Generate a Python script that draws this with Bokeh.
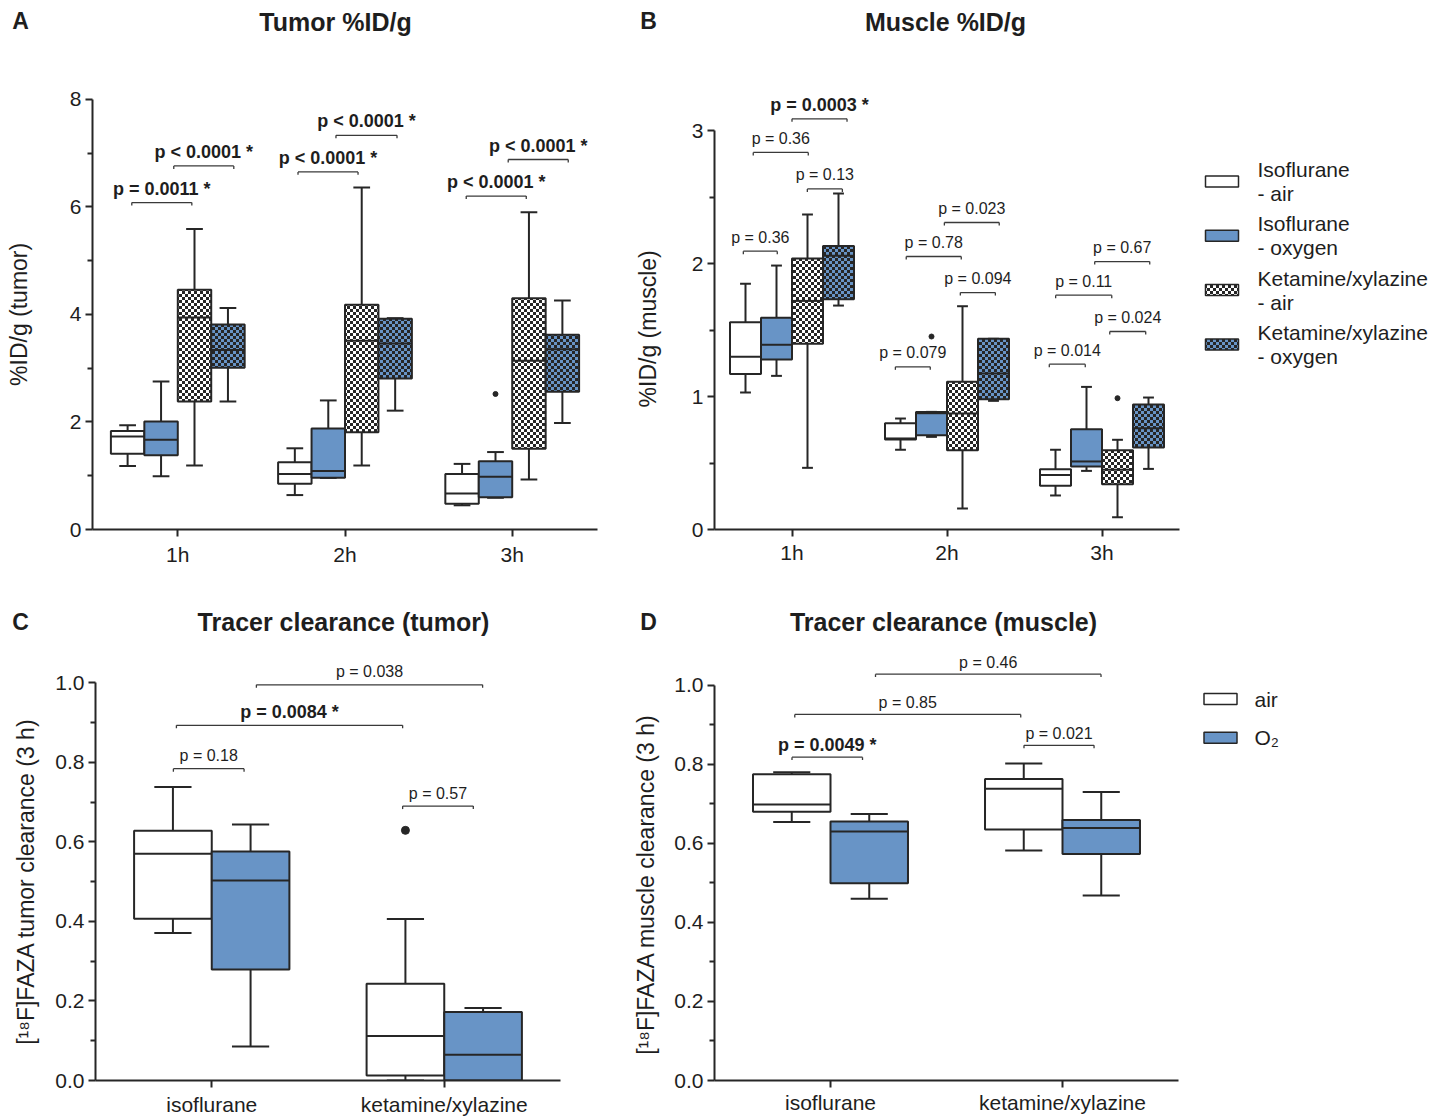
import base64
import math
from bokeh.plotting import figure
from bokeh.layouts import column, row
from bokeh.models import FixedTicker, ImageURLTexture, ColumnDataSource, PrintfTickFormatter
from bokeh.core.properties import value
from bokeh.embed import file_html
from bokeh.resources import INLINE

FONT = "Liberation Sans"
DARK = "#262626"
BLUE = "#6894C6"
BR = "#3a3a3a"
TXT = "#1e1e1e"

# ---------------- data ----------------
times = ["1h", "2h", "3h"]
legend_top = ["Isoflurane", "Isoflurane", "Ketamine/xylazine", "Ketamine/xylazine"]
legend_bottom = ["- air", "- oxygen", "- air", "- oxygen"]

# [whisker min, Q1, median, Q3, whisker max] per time point
tumor_iso_air = [[1.18, 1.41, 1.73, 1.83, 1.94], [0.64, 0.85, 1.03, 1.25, 1.51], [0.45, 0.48, 0.67, 1.03, 1.22]]
tumor_iso_o2 = [[0.99, 1.38, 1.67, 2.01, 2.75], [0.96, 0.96, 1.09, 1.88, 2.40], [0.59, 0.60, 0.98, 1.27, 1.44]]
tumor_ket_air = [[1.19, 2.38, 3.94, 4.46, 5.59], [1.19, 1.81, 3.51, 4.18, 6.36], [0.93, 1.50, 3.14, 4.30, 5.90]]
tumor_ket_o2 = [[2.38, 3.01, 3.34, 3.81, 4.12], [2.21, 2.81, 3.46, 3.92, 3.93], [1.98, 2.56, 3.35, 3.62, 4.26]]
tumor_outlier_time = [3]
tumor_outlier_series = [1]
tumor_outlier_value = [2.52]

muscle_iso_air = [[1.03, 1.17, 1.30, 1.56, 1.85], [0.60, 0.677, 0.685, 0.80, 0.835], [0.256, 0.33, 0.41, 0.454, 0.60]]
muscle_iso_o2 = [[1.156, 1.279, 1.39, 1.593, 1.986], [0.697, 0.71, 0.875, 0.885, 0.885], [0.441, 0.474, 0.512, 0.755, 1.073]]
muscle_ket_air = [[0.464, 1.397, 1.72, 2.04, 2.37], [0.158, 0.597, 0.873, 1.111, 1.68], [0.093, 0.341, 0.45, 0.597, 0.675]]
muscle_ket_o2 = [[1.685, 1.733, 2.06, 2.134, 2.528], [0.968, 0.981, 1.174, 1.435, 1.435], [0.456, 0.617, 0.762, 0.94, 0.993]]
muscle_outlier_time = [2, 3]
muscle_outlier_series = [1, 2]
muscle_outlier_value = [1.452, 0.988]

anesthetics = ["isoflurane", "ketamine/xylazine"]
gas_labels = ["air", "O\u2082"]
clr_tumor_air = [[0.371, 0.407, 0.570, 0.628, 0.738], [0.0, 0.0126, 0.112, 0.243, 0.406]]
clr_tumor_o2 = [[0.0855, 0.279, 0.503, 0.576, 0.644], [0.0, 0.0, 0.065, 0.172, 0.182]]
clr_tumor_outlier_group = [2]
clr_tumor_outlier_series = [0]
clr_tumor_outlier_value = [0.629]
clr_muscle_air = [[0.654, 0.680, 0.698, 0.775, 0.780], [0.582, 0.635, 0.738, 0.763, 0.802]]
clr_muscle_o2 = [[0.460, 0.499, 0.630, 0.655, 0.674], [0.468, 0.573, 0.639, 0.659, 0.730]]

# significance brackets (start, end on category axis; height; label; bold)
tumor_br_x0 = [0.725, 0.976, 1.719, 1.946, 2.725, 2.976]
tumor_br_x1 = [1.084, 1.335, 2.078, 2.311, 3.084, 3.335]
tumor_br_y = [6.08, 6.76, 6.65, 7.33, 6.20, 6.88]
tumor_br_label = ["p = 0.0011 *", "p < 0.0001 *", "p < 0.0001 *", "p < 0.0001 *", "p < 0.0001 *", "p < 0.0001 *"]
tumor_br_bold = [True, True, True, True, True, True]

muscle_br_x0 = [1.000, 0.750, 1.099, 0.686, 1.983, 1.737, 2.086, 1.667, 2.953, 2.701, 3.050, 2.660]
muscle_br_x1 = [1.355, 1.105, 1.325, 0.905, 2.337, 2.092, 2.312, 1.892, 3.308, 3.063, 3.282, 2.892]
muscle_br_y = [3.09, 2.837, 2.563, 2.094, 2.31, 2.054, 1.783, 1.224, 2.016, 1.763, 1.49, 1.244]
muscle_br_label = ["p = 0.0003 *", "p = 0.36", "p = 0.13", "p = 0.36", "p = 0.023", "p = 0.78",
                   "p = 0.094", "p = 0.079", "p = 0.67", "p = 0.11", "p = 0.024", "p = 0.014"]
muscle_br_bold = [True] + [False] * 11

ctum_br_x0 = [1.192, 0.848, 0.835, 1.821]
ctum_br_x1 = [2.165, 1.821, 1.139, 2.125]
ctum_br_y = [0.995, 0.893, 0.784, 0.690]
ctum_br_label = ["p = 0.038", "p = 0.0084 *", "p = 0.18", "p = 0.57"]
ctum_br_bold = [False, True, False, False]

cmus_br_x0 = [1.194, 0.846, 0.834, 1.834]
cmus_br_x1 = [2.166, 1.820, 1.138, 2.136]
cmus_br_y = [1.028, 0.926, 0.818, 0.848]
cmus_br_label = ["p = 0.46", "p = 0.85", "p = 0.0049 *", "p = 0.021"]
cmus_br_bold = [False, False, True, False]

# ---------------- texture (checkerboard fill) ----------------
_svg = ("<svg xmlns='http://www.w3.org/2000/svg' width='6' height='6' shape-rendering='crispEdges'>"
        "<rect width='3' height='3' fill='#262626'/><rect x='3' y='3' width='3' height='3' fill='#262626'/></svg>")
svg_checker = ImageURLTexture(url="data:image/svg+xml;base64," + base64.b64encode(_svg.encode()).decode())
HATCH = dict(hatch_pattern=value("checker"), hatch_extra={"checker": svg_checker},
             hatch_color=DARK, hatch_scale=6, hatch_alpha=1.0)
STYLES = [("white", False), (BLUE, False), ("white", True), (BLUE, True)]


def make_fig(w, h, xr, yr, mbl, mbr, mbb):
    p = figure(width=w, height=h, x_range=xr, y_range=yr, output_backend="svg",
               toolbar_location=None, title=None,
               min_border_left=mbl, min_border_right=mbr, min_border_top=0, min_border_bottom=mbb)
    p.outline_line_color = None
    p.grid.visible = False
    p.background_fill_color = "white"
    p.border_fill_color = "white"
    for ax in p.axis:
        ax.axis_line_color = DARK
        ax.axis_line_width = 2
        ax.major_tick_line_color = DARK
        ax.major_tick_line_width = 2
        ax.minor_tick_line_color = DARK
        ax.minor_tick_line_width = 2
        ax.major_tick_in = 0
        ax.minor_tick_in = 0
        ax.major_tick_out = 7
        ax.minor_tick_out = 5
        ax.major_label_text_font = FONT
        ax.major_label_text_font_size = "21px"
        ax.major_label_text_color = TXT
    p.xaxis.minor_tick_out = 0
    p.yaxis.major_label_standoff = 4
    return p


def make_plain(w, h, fh=None, mbb=0):
    fh = h if fh is None else fh
    p = figure(width=w, height=h, x_range=(0, w), y_range=(0, fh), output_backend="svg",
               toolbar_location=None, title=None, x_axis_location=None, y_axis_location=None,
               min_border_left=0, min_border_right=0, min_border_top=0, min_border_bottom=mbb)
    p.outline_line_color = None
    p.grid.visible = False
    return p


def head_text(p, h, xs, ys, texts, sizes):
    for x, y, t, s in zip(xs, ys, texts, sizes):
        p.text(x=[x], y=[h - y], text=[t], text_align="center", text_baseline="middle",
               text_font=value(FONT), text_font_size=s, text_font_style="bold", text_color=TXT)


def ylabel_fig(w, h, mbb, cx, cy, text):
    # frame spans the top (h - mbb) px of the figure, matching the neighbouring plot frame
    fh = h - mbb
    p = make_plain(w, h, fh, mbb)
    p.text(x=[cx], y=[fh - cy], text=[text], angle=math.pi / 2, text_align="center",
           text_baseline="middle", text_font=value(FONT), text_font_size="23px", text_color=TXT)
    return p


def draw_boxes(p, xs, stats, w, fill, hatched, cap):
    src = ColumnDataSource(dict(
        x=xs, lo=[s[0] for s in stats], q1=[s[1] for s in stats], med=[s[2] for s in stats],
        q3=[s[3] for s in stats], hi=[s[4] for s in stats],
        xl=[x - w / 2 for x in xs], xr=[x + w / 2 for x in xs],
        cl=[x - cap / 2 for x in xs], cr=[x + cap / 2 for x in xs]))
    kw = dict(line_color=DARK, line_width=2)
    p.segment("x", "q3", "x", "hi", source=src, **kw)
    p.segment("x", "lo", "x", "q1", source=src, **kw)
    p.segment("cl", "hi", "cr", "hi", source=src, **kw)
    p.segment("cl", "lo", "cr", "lo", source=src, **kw)
    extra = HATCH if hatched else {}
    p.vbar(x="x", width=w, bottom="q1", top="q3", source=src, fill_color=fill,
           line_color=DARK, line_width=2, **extra)
    p.segment("xl", "med", "xr", "med", source=src, **kw)


def draw_brackets(p, x0, x1, y, labels, bold, ppu, yoff):
    tick = 3.0 / ppu
    kw = dict(line_color=BR, line_width=1.3)
    p.segment(x0=x0, y0=y, x1=x1, y1=y, **kw)
    p.segment(x0=x0, y0=y, x1=x0, y1=[v - tick for v in y], **kw)
    p.segment(x0=x1, y0=y, x1=x1, y1=[v - tick for v in y], **kw)
    for b in (False, True):
        idx = [i for i in range(len(labels)) if bold[i] == b]
        if not idx:
            continue
        p.text(x=[(x0[i] + x1[i]) / 2 for i in idx], y=[y[i] for i in idx],
               text=[labels[i] for i in idx], text_align="center", text_baseline="middle",
               y_offset=yoff, text_font=value(FONT),
               text_font_size="18px" if b else "16px",
               text_font_style="bold" if b else "normal", text_color=TXT)


def legend_entry(p, fx, fy, sx, sy, tx, lines, fill, hatched):
    extra = HATCH if hatched else {}
    p.rect(x=[fx(sx)], y=[fy(sy)], width=33, height=11, width_units="screen", height_units="screen",
           fill_color=fill, line_color=DARK, line_width=1.5, **extra)
    n = len(lines)
    ys = [sy + (k - (n - 1) / 2) * 24 for k in range(n)]
    p.text(x=[fx(tx)] * n, y=[fy(v) for v in ys], text=lines, text_align="left",
           text_baseline="middle", text_font=value(FONT), text_font_size="21px", text_color=TXT)


# ---------------- headers ----------------
H1 = 45
head1 = make_plain(1445, H1)
head_text(head1, H1, [20, 335, 648, 945], [20, 21, 20, 21],
          ["A", "Tumor %ID/g", "B", "Muscle %ID/g"], ["23px", "25px", "23px", "25px"])
H2 = 50
head2 = make_plain(1445, H2)
head_text(head2, H2, [20, 343, 648, 943], [31, 31, 31, 31],
          ["C", "Tracer clearance (tumor)", "D", "Tracer clearance (muscle)"],
          ["23px", "25px", "23px", "25px"])

R1 = 545   # row 1 height (image y 45..590)
R2 = 478   # row 2 height (image y 640..1118)

# ---------------- panel A ----------------
A_ppx, A_ppy = 505 / 3.02, 54.0
labA = ylabel_fig(38, R1, 59, 18, 315 - 45, "%ID/g (tumor)")
pA = make_fig(582, R1, (0.49, 3.51), (0, 486 / A_ppy), 54, 23, 59)
pA.xaxis.ticker = FixedTicker(ticks=[1, 2, 3])
pA.xaxis.major_label_overrides = {i + 1: t for i, t in enumerate(times)}
pA.xaxis.major_label_standoff = 6
pA.yaxis.ticker = FixedTicker(ticks=[0, 2, 4, 6, 8], minor_ticks=[1, 3, 5, 7])
pA.yaxis.bounds = (0, 8)
for k, series in enumerate([tumor_iso_air, tumor_iso_o2, tumor_ket_air, tumor_ket_o2]):
    xs = [t + 1 + (k - 1.5) * 0.2 for t in range(len(times))]
    draw_boxes(pA, xs, series, 0.2, STYLES[k][0], STYLES[k][1], 0.1)
pA.scatter(x=[t + (s - 1.5) * 0.2 for t, s in zip(tumor_outlier_time, tumor_outlier_series)],
           y=tumor_outlier_value, size=5, color=DARK)
draw_brackets(pA, tumor_br_x0, tumor_br_x1, tumor_br_y, tumor_br_label, tumor_br_bold, A_ppy, -14)

# ---------------- panel B ----------------
B_ppx, B_ppy = 155.0, 132.9
bx_ = lambda px: 0.5 + (px - 714) / B_ppx
by_ = lambda py: (529 - py) / B_ppy
labB = ylabel_fig(44, R1, 59, 27, 329.5 - 45, "%ID/g (muscle)")
pB = make_fig(781, R1, (0.5, 0.5 + 731 / B_ppx), (0, 484 / B_ppy), 50, 0, 61)
pB.xaxis.ticker = FixedTicker(ticks=[1, 2, 3])
pB.xaxis.major_label_overrides = {i + 1: t for i, t in enumerate(times)}
pB.xaxis.major_label_standoff = 4
pB.xaxis.bounds = (0.5, 3.5)
pB.yaxis.ticker = FixedTicker(ticks=[0, 1, 2, 3], minor_ticks=[0.5, 1.5, 2.5])
pB.yaxis.bounds = (0, 3)
for k, series in enumerate([muscle_iso_air, muscle_iso_o2, muscle_ket_air, muscle_ket_o2]):
    xs = [t + 1 + (k - 1.5) * 0.2 for t in range(len(times))]
    draw_boxes(pB, xs, series, 0.2, STYLES[k][0], STYLES[k][1], 0.07)
pB.scatter(x=[t + (s - 1.5) * 0.2 for t, s in zip(muscle_outlier_time, muscle_outlier_series)],
           y=muscle_outlier_value, size=5, color=DARK)
draw_brackets(pB, muscle_br_x0, muscle_br_x1, muscle_br_y, muscle_br_label, muscle_br_bold, B_ppy, -14)
for k in range(4):
    legend_entry(pB, bx_, by_, 1221.5, 181 + k * 54.3, 1257, [legend_top[k], legend_bottom[k]],
                 STYLES[k][0], STYLES[k][1])

# ---------------- panel C ----------------
C_ppx, C_ppy = 232.5, 397.7
labC = ylabel_fig(40, R2, 38, 25, 881 - 640, "[\u00b9\u2078F]FAZA tumor clearance (3 h)")
pC = make_fig(580, R2, (0.5, 2.5), (0, 440 / C_ppy), 55, 60, 38)
pC.xaxis.ticker = FixedTicker(ticks=[1, 2])
pC.xaxis.major_label_overrides = {i + 1: t for i, t in enumerate(anesthetics)}
pC.xaxis.major_label_standoff = 5
pC.yaxis.ticker = FixedTicker(ticks=[0, 0.2, 0.4, 0.6, 0.8, 1.0], minor_ticks=[0.1, 0.3, 0.5, 0.7, 0.9])
pC.yaxis.formatter = PrintfTickFormatter(format="%.1f")
pC.yaxis.bounds = (0, 1)
BW2 = 0.334
for k, series in enumerate([clr_tumor_air, clr_tumor_o2]):
    xs = [g + 1 + (k - 0.5) * BW2 for g in range(len(anesthetics))]
    draw_boxes(pC, xs, series, BW2, STYLES[k][0], False, 0.16)
pC.scatter(x=[g + (s - 0.5) * BW2 for g, s in zip(clr_tumor_outlier_group, clr_tumor_outlier_series)],
           y=clr_tumor_outlier_value, size=8, color=DARK)
draw_brackets(pC, ctum_br_x0, ctum_br_x1, ctum_br_y, ctum_br_label, ctum_br_bold, C_ppy, -13)

# ---------------- panel D ----------------
D_ppx, D_ppy = 232.0, 398.0
dx_ = lambda px: 0.5 + (px - 714) / D_ppx
dy_ = lambda py: (1083 - py) / D_ppy
labD = ylabel_fig(44, R2, 38, 25, 884 - 640, "[\u00b9\u2078F]FAZA muscle clearance (3 h)")
pD = make_fig(781, R2, (0.5, 0.5 + 731 / D_ppx), (0, 443 / D_ppy), 50, 0, 35)
pD.xaxis.ticker = FixedTicker(ticks=[1, 2])
pD.xaxis.major_label_overrides = {i + 1: t for i, t in enumerate(anesthetics)}
pD.xaxis.major_label_standoff = 3
pD.xaxis.bounds = (0.5, 2.5)
pD.yaxis.ticker = FixedTicker(ticks=[0, 0.2, 0.4, 0.6, 0.8, 1.0], minor_ticks=[0.1, 0.3, 0.5, 0.7, 0.9])
pD.yaxis.formatter = PrintfTickFormatter(format="%.1f")
pD.yaxis.bounds = (0, 1)
for k, series in enumerate([clr_muscle_air, clr_muscle_o2]):
    xs = [g + 1 + (k - 0.5) * BW2 for g in range(len(anesthetics))]
    draw_boxes(pD, xs, series, BW2, STYLES[k][0], False, 0.16)
draw_brackets(pD, cmus_br_x0, cmus_br_x1, cmus_br_y, cmus_br_label, cmus_br_bold, D_ppy, -12)
for k in range(2):
    legend_entry(pD, dx_, dy_, 1220, 699 + k * 39, 1254, [gas_labels[k]], STYLES[k][0], False)

layout = column(head1, row(labA, pA, labB, pB), head2, row(labC, pC, labD, pD))
open("out.html", "w").write(file_html(layout, INLINE))
